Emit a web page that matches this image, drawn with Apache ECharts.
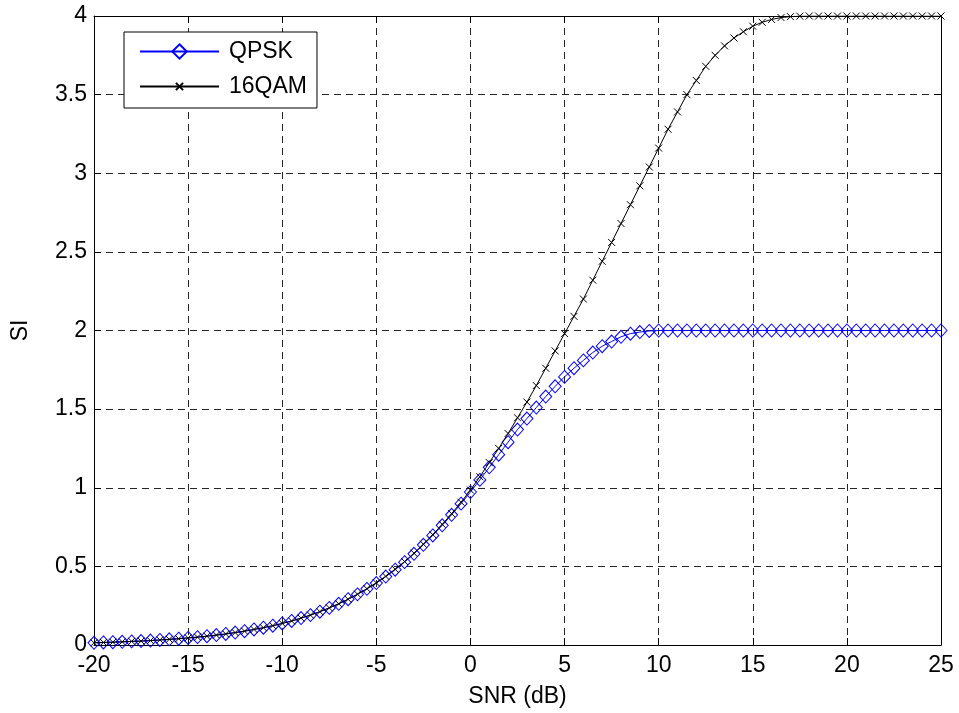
<!DOCTYPE html>
<html>
<head>
<meta charset="utf-8">
<script src="https://cdn.jsdelivr.net/npm/echarts@6/dist/echarts.min.js"></script>
<style>
  html, body { margin: 0; padding: 0; background: #fff; }
  #chart { width: 959px; height: 713px; }
</style>
</head>
<body>
<div id="chart"></div>
<script>
// SNR grid in dB, 0.5 dB steps from -20 to 25
const snr = [
  -20, -19.5, -19, -18.5, -18, -17.5, -17, -16.5, -16, -15.5,
  -15, -14.5, -14, -13.5, -13, -12.5, -12, -11.5, -11, -10.5,
  -10, -9.5, -9, -8.5, -8, -7.5, -7, -6.5, -6, -5.5,
  -5, -4.5, -4, -3.5, -3, -2.5, -2, -1.5, -1, -0.5,
  0, 0.5, 1, 1.5, 2, 2.5, 3, 3.5, 4, 4.5,
  5, 5.5, 6, 6.5, 7, 7.5, 8, 8.5, 9, 9.5,
  10, 10.5, 11, 11.5, 12, 12.5, 13, 13.5, 14, 14.5,
  15, 15.5, 16, 16.5, 17, 17.5, 18, 18.5, 19, 19.5,
  20, 20.5, 21, 21.5, 22, 22.5, 23, 23.5, 24, 24.5,
  25
];

// Spectral efficiency (bit/symbol) for QPSK
const qpsk = [
  0.014, 0.016, 0.018, 0.020, 0.023, 0.025, 0.028, 0.032, 0.036, 0.040,
  0.045, 0.050, 0.056, 0.063, 0.070, 0.079, 0.088, 0.099, 0.110, 0.123,
  0.137, 0.153, 0.171, 0.190, 0.212, 0.236, 0.262, 0.291, 0.322, 0.357,
  0.394, 0.435, 0.479, 0.527, 0.580, 0.637, 0.697, 0.761, 0.828, 0.899,
  0.973, 1.05, 1.13, 1.21, 1.29, 1.37, 1.44, 1.51, 1.58, 1.645,
  1.705, 1.76, 1.81, 1.86, 1.90, 1.93, 1.96, 1.98, 1.99, 1.997,
  2, 2, 2, 2, 2, 2, 2, 2, 2, 2,
  2, 2, 2, 2, 2, 2, 2, 2, 2, 2,
  2, 2, 2, 2, 2, 2, 2, 2, 2, 2,
  2
];

// Spectral efficiency (bit/symbol) for 16QAM
const qam16 = [
  0.014, 0.016, 0.018, 0.020, 0.023, 0.025, 0.028, 0.032, 0.036, 0.040,
  0.045, 0.050, 0.056, 0.063, 0.070, 0.079, 0.088, 0.099, 0.110, 0.123,
  0.137, 0.153, 0.171, 0.190, 0.212, 0.236, 0.262, 0.291, 0.323, 0.358,
  0.395, 0.437, 0.482, 0.531, 0.584, 0.641, 0.702, 0.767, 0.835, 0.908,
  0.985, 1.07, 1.16, 1.25, 1.345, 1.445, 1.545, 1.65, 1.76, 1.87,
  1.98, 2.09, 2.20, 2.32, 2.44, 2.56, 2.68, 2.80, 2.92, 3.04,
  3.16, 3.28, 3.39, 3.50, 3.59, 3.68, 3.75, 3.81, 3.86, 3.90,
  3.935, 3.96, 3.978, 3.99, 3.996, 3.999, 4, 4, 4, 4,
  4, 4, 4, 4, 4, 4, 4, 4, 4, 4,
  4
];

const seriesNames = ['QPSK', '16QAM'];
const xTicks = { min: -20, max: 25, step: 5 };
const yTicks = { min: 0, max: 4, step: 0.5 };

const pairs = (ys) => snr.map((x, i) => [x, ys[i]]);

const FONT = 'Liberation Sans, Arial, sans-serif';
const FS = 23;
// "x" marker; the zero-length corner segments pad its box so the cross
// keeps a small size when the legend scales every symbol to the same box
const crossPath = 'path://M-5,-5L-5,-5M15,15L15,15M0,0L10,10M10,0L0,10';

const chart = echarts.init(document.getElementById('chart'), null, { renderer: 'canvas' });

const gridDash = { color: '#262626', width: 1, type: [7, 5] };
const frameLine = { show: true, onZero: false, lineStyle: { color: '#000', width: 1 } };
const innerTick = { show: true, inside: true, length: 7, lineStyle: { color: '#000', width: 1 } };
const tickText = { fontFamily: FONT, fontSize: FS, color: '#000' };

chart.setOption({
  animation: false,
  backgroundColor: '#fff',
  grid: { left: 94, top: 16, width: 847, height: 629, containLabel: false },
  legend: {
    orient: 'vertical',
    left: 124,
    top: 32,
    data: seriesNames,
    itemWidth: 79,
    itemHeight: 18,
    itemGap: 12,
    padding: [8, 10, 10, 15],
    backgroundColor: '#fff',
    borderColor: '#000',
    borderWidth: 1,
    borderRadius: 0,
    textStyle: { fontFamily: FONT, fontSize: FS, color: '#000', padding: [0, 0, 0, 5] }
  },
  xAxis: [
    {
      type: 'value',
      min: xTicks.min, max: xTicks.max, interval: xTicks.step,
      name: 'SNR (dB)',
      nameLocation: 'middle',
      nameGap: 40,
      nameTextStyle: tickText,
      axisLine: frameLine,
      axisTick: innerTick,
      axisLabel: Object.assign({ margin: 9 }, tickText),
      splitLine: { show: true, lineStyle: gridDash }
    },
    {
      type: 'value',
      position: 'top',
      min: xTicks.min, max: xTicks.max, interval: xTicks.step,
      axisLine: frameLine,
      axisTick: innerTick,
      axisLabel: { show: false },
      splitLine: { show: false }
    }
  ],
  yAxis: [
    {
      type: 'value',
      min: yTicks.min, max: yTicks.max, interval: yTicks.step,
      name: 'SI',
      nameLocation: 'middle',
      nameGap: 62,
      nameRotate: 90,
      nameTextStyle: tickText,
      axisLine: frameLine,
      axisTick: innerTick,
      axisLabel: Object.assign({ margin: 7 }, tickText),
      splitLine: { show: true, lineStyle: gridDash }
    },
    {
      type: 'value',
      position: 'right',
      min: yTicks.min, max: yTicks.max, interval: yTicks.step,
      axisLine: frameLine,
      axisTick: innerTick,
      axisLabel: { show: false },
      splitLine: { show: false }
    }
  ],
  series: [
    {
      name: seriesNames[0],
      type: 'line',
      data: pairs(qpsk),
      symbol: 'diamond',
      symbolSize: [12, 13],
      showAllSymbol: true,
      lineStyle: { color: '#0000ff', width: 1 },
      itemStyle: { color: 'rgba(255,255,255,0)', borderColor: '#0000ff', borderWidth: 1 },
      z: 2
    },
    {
      name: seriesNames[1],
      type: 'line',
      data: pairs(qam16),
      symbol: crossPath,
      symbolSize: 14,
      showAllSymbol: true,
      lineStyle: { color: '#000', width: 1 },
      itemStyle: { color: 'rgba(0,0,0,0)', borderColor: '#000', borderWidth: 1 },
      z: 3
    }
  ]
});
</script>
</body>
</html>
